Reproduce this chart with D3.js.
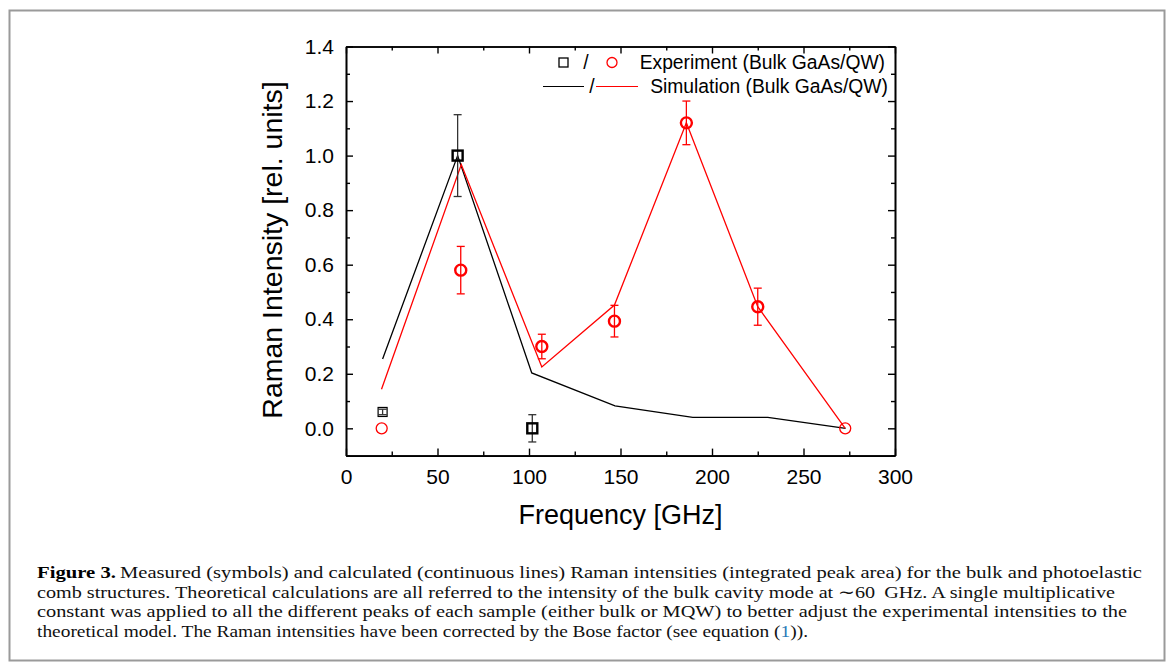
<!DOCTYPE html>
<html>
<head>
<meta charset="utf-8">
<script src="https://cdn.jsdelivr.net/npm/d3@7"></script>
<style>
  body { margin: 0; background: #fff; }
  svg { display: block; }
</style>
</head>
<body>
<script>
// measured Raman intensities (symbols)
var bulkExpFreq = [20, 61, 101.8];
var bulkExpVal  = [0.06, 1.0, 0.0];
var bulkExpErr  = [0.01, 0.15, 0.05];

var qwExpFreq = [19.5, 62.7, 107, 146.7, 186, 225, 272.8];
var qwExpVal  = [0.0, 0.58, 0.30, 0.393, 1.12, 0.446, 0.0];
var qwExpErr  = [0, 0.087, 0.045, 0.058, 0.08, 0.068, 0];

// calculated intensities (lines)
var bulkSimFreq = [20, 61, 101.5, 147, 189.5, 230.5, 273];
var bulkSimVal  = [0.254, 1.0, 0.203, 0.082, 0.04, 0.04, 0.0];

var qwSimFreq = [19.4, 63, 107, 146.7, 186, 225, 272.8];
var qwSimVal  = [0.143, 0.967, 0.225, 0.452, 1.12, 0.446, 0.0];

var xTicks = [0, 50, 100, 150, 200, 250, 300];
var yTicks = [0, 0.2, 0.4, 0.6, 0.8, 1.0, 1.2, 1.4];

var captionLines = [
  "Measured (symbols) and calculated (continuous lines) Raman intensities (integrated peak area) for the bulk and photoelastic",
  "comb structures. Theoretical calculations are all referred to the intensity of the bulk cavity mode at \u223c60\u2009 GHz. A single multiplicative",
  "constant was applied to all the different peaks of each sample (either bulk or MQW) to better adjust the experimental intensities to the",
  "theoretical model. The Raman intensities have been corrected by the Bose factor (see equation ("
];

var W = 1171, H = 671;
var svg = d3.select("body").append("svg")
    .attr("width", W)
    .attr("height", H);

svg.append("rect")
    .attr("x", 9.5).attr("y", 10.5)
    .attr("width", 1155).attr("height", 650)
    .attr("fill", "#fff")
    .attr("stroke", "#9a9a9a")
    .attr("stroke-width", 2);

var x = d3.scaleLinear().domain([0, 300]).range([346, 895]);
var y = d3.scaleLinear().domain([-0.1, 1.4]).range([455.6, 46.5]);

var font = "'Liberation Sans', Arial, sans-serif";

// axes: ticks pointing inward, minor ticks in between
function styleAxis(g) {
  g.select(".domain").attr("stroke", "#000").attr("stroke-width", 1.6);
  g.selectAll(".tick line").attr("stroke", "#000").attr("stroke-width", 1.4);
  g.selectAll("text").style("font-family", font).style("font-size", "21px").attr("fill", "#000");
}
var xMinor = d3.range(25, 300, 50);
var yMinor = d3.range(-0.1, 1.45, 0.2);

svg.append("g").attr("transform", "translate(0," + y(-0.1) + ")")
    .call(d3.axisBottom(x).tickValues(xTicks).tickSize(-7).tickPadding(13).tickSizeOuter(0))
    .call(styleAxis);
svg.append("g").attr("transform", "translate(0," + y(-0.1) + ")")
    .call(d3.axisBottom(x).tickValues(xMinor).tickSize(-4).tickFormat("").tickSizeOuter(0))
    .call(styleAxis);
svg.append("g").attr("transform", "translate(0," + y(1.4) + ")")
    .call(d3.axisTop(x).tickValues(xTicks).tickSize(-7).tickFormat("").tickSizeOuter(0))
    .call(styleAxis);
svg.append("g").attr("transform", "translate(0," + y(1.4) + ")")
    .call(d3.axisTop(x).tickValues(xMinor).tickSize(-4).tickFormat("").tickSizeOuter(0))
    .call(styleAxis);

svg.append("g").attr("transform", "translate(" + x(0) + ",0)")
    .call(d3.axisLeft(y).tickValues(yTicks).tickSize(-7).tickPadding(12).tickFormat(d3.format(".1f")).tickSizeOuter(0))
    .call(styleAxis);
svg.append("g").attr("transform", "translate(" + x(0) + ",0)")
    .call(d3.axisLeft(y).tickValues(yMinor).tickSize(-4).tickFormat("").tickSizeOuter(0))
    .call(styleAxis);
svg.append("g").attr("transform", "translate(" + x(300) + ",0)")
    .call(d3.axisRight(y).tickValues(yTicks).tickSize(-7).tickFormat("").tickSizeOuter(0))
    .call(styleAxis);
svg.append("g").attr("transform", "translate(" + x(300) + ",0)")
    .call(d3.axisRight(y).tickValues(yMinor).tickSize(-4).tickFormat("").tickSizeOuter(0))
    .call(styleAxis);

// axis titles
svg.append("text")
    .attr("x", x(150)).attr("y", 524)
    .attr("text-anchor", "middle")
    .style("font-family", font).style("font-size", "27px")
    .text("Frequency [GHz]");
svg.append("text")
    .attr("transform", "translate(282,250) rotate(-90)")
    .attr("text-anchor", "middle")
    .style("font-family", font).style("font-size", "28.5px")
    .text("Raman Intensity [rel. units]");

// simulation lines
var line = d3.line().x(function(d) { return x(d[0]); }).y(function(d) { return y(d[1]); });
function drawLine(fr, vals, col) {
  svg.append("path")
      .datum(d3.zip(fr, vals))
      .attr("d", line)
      .attr("fill", "none")
      .attr("stroke", col)
      .attr("stroke-width", 1.3);
}
drawLine(bulkSimFreq, bulkSimVal, "#000");
drawLine(qwSimFreq, qwSimVal, "#ff0000");

// error bars
function drawErr(fr, vals, errs, col) {
  var g = svg.append("g").attr("stroke", col).attr("stroke-width", 1.3);
  var d = d3.zip(fr, vals, errs).filter(function(d) { return d[2] > 0; });
  g.selectAll(".v").data(d).enter().append("line")
      .attr("x1", function(d) { return x(d[0]); }).attr("x2", function(d) { return x(d[0]); })
      .attr("y1", function(d) { return y(d[1] - d[2]); }).attr("y2", function(d) { return y(d[1] + d[2]); });
  [-1, 1].forEach(function(s) {
    g.selectAll(".c" + s).data(d).enter().append("line")
        .attr("x1", function(d) { return x(d[0]) - 4; }).attr("x2", function(d) { return x(d[0]) + 4; })
        .attr("y1", function(d) { return y(d[1] + s * d[2]); }).attr("y2", function(d) { return y(d[1] + s * d[2]); });
  });
}
drawErr(bulkExpFreq, bulkExpVal, bulkExpErr, "#333");
drawErr(qwExpFreq, qwExpVal, qwExpErr, "#ff0000");

// symbols: the ones without a visible error bar are drawn thinner
svg.append("g").selectAll("rect")
    .data(d3.zip(bulkExpFreq, bulkExpVal, bulkExpErr))
  .enter().append("rect")
    .attr("x", function(d) { return x(d[0]) - (d[2] > 0.02 ? 5 : 4.5); })
    .attr("y", function(d) { return y(d[1]) - (d[2] > 0.02 ? 5 : 4.5); })
    .attr("width", function(d) { return d[2] > 0.02 ? 10 : 9; })
    .attr("height", function(d) { return d[2] > 0.02 ? 10 : 9; })
    .attr("fill", "none")
    .attr("stroke", "#000")
    .attr("stroke-width", function(d) { return d[2] > 0.02 ? 2.4 : 1.2; });

svg.append("g").selectAll("circle")
    .data(d3.zip(qwExpFreq, qwExpVal, qwExpErr))
  .enter().append("circle")
    .attr("cx", function(d) { return x(d[0]); })
    .attr("cy", function(d) { return y(d[1]); })
    .attr("r", 5.5)
    .attr("fill", "none")
    .attr("stroke", "#ff0000")
    .attr("stroke-width", function(d) { return d[2] > 0 ? 2.4 : 1.3; });

// legend
var leg = svg.append("g").style("font-family", font).style("font-size", "19.3px");
leg.append("rect").attr("x", 559).attr("y", 58).attr("width", 9).attr("height", 9)
    .attr("fill", "none").attr("stroke", "#000").attr("stroke-width", 1.3);
leg.append("text").attr("x", 586).attr("y", 69).attr("text-anchor", "middle").text("/");
leg.append("circle").attr("cx", 612).attr("cy", 62.5).attr("r", 5)
    .attr("fill", "none").attr("stroke", "#ff0000").attr("stroke-width", 1.3);
leg.append("text").attr("x", 885).attr("y", 69).attr("text-anchor", "end").text("Experiment (Bulk GaAs/QW)");
leg.append("line").attr("x1", 543).attr("x2", 584).attr("y1", 86.5).attr("y2", 86.5)
    .attr("stroke", "#000").attr("stroke-width", 1.2);
leg.append("text").attr("x", 592).attr("y", 93).attr("text-anchor", "middle").text("/");
leg.append("line").attr("x1", 596).attr("x2", 638).attr("y1", 86.5).attr("y2", 86.5)
    .attr("stroke", "#ff0000").attr("stroke-width", 1.2);
leg.append("text").attr("x", 888).attr("y", 93).attr("text-anchor", "end").text("Simulation (Bulk GaAs/QW)");

// caption
var serif = "'Liberation Serif', 'Times New Roman', serif";
var capY = [578, 597.5, 617, 636.5];
var capX = [120, 37, 37, 37];
var capW = [1022, 1078, 1090, 771];
svg.append("text")
    .attr("x", 37).attr("y", capY[0])
    .attr("textLength", 79).attr("lengthAdjust", "spacingAndGlyphs")
    .style("font-family", serif).style("font-size", "17px").style("font-weight", "bold")
    .text("Figure 3.");
captionLines.forEach(function(t, i) {
  var el = svg.append("text")
      .attr("x", capX[i]).attr("y", capY[i])
      .style("font-family", serif).style("font-size", "17px")
      .attr("fill", "#111")
      .attr("textLength", capW[i]).attr("lengthAdjust", "spacingAndGlyphs");
  if (i < 3) {
    el.text(t);
  } else {
    el.append("tspan").text(t);
    el.append("tspan").attr("fill", "#2a7ab8").text("1");
    el.append("tspan").text(")).");
  }
});
</script>
</body>
</html>
